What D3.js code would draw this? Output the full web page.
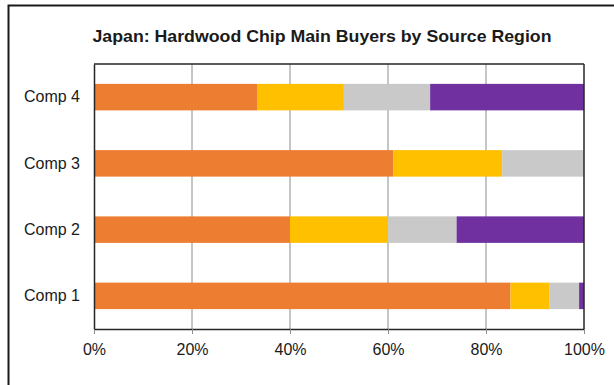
<!DOCTYPE html>
<html>
<head>
<meta charset="utf-8">
<script src="https://cdn.jsdelivr.net/npm/d3@7/dist/d3.min.js"></script>
<style>
  html, body { margin: 0; padding: 0; background: #fff; }
  svg { display: block; font-family: Arial, "Liberation Sans", sans-serif; }
</style>
</head>
<body>
<svg id="chart" width="614" height="385"></svg>
<script>
// Share of hardwood chip purchases by source region, per buyer (percent)
const categories = ["Comp 1", "Comp 2", "Comp 3", "Comp 4"];
const seriesNames = ["Region A", "Region B", "Region C", "Region D"];
const regionA = [85.0, 40.0, 61.1, 33.4];
const regionB = [8.0, 20.0, 22.2, 17.6];
const regionC = [6.0, 14.0, 16.7, 17.6];
const regionD = [1.0, 26.0, 0.0, 31.4];
const seriesColors = ["#ED7D31", "#FFC000", "#C9C9C9", "#7030A0"];
const tickValues = [0, 0.2, 0.4, 0.6, 0.8, 1.0];
const titleText = "Japan: Hardwood Chip Main Buyers by Source Region";

const svg = d3.select("#chart");
const W = 614, H = 385;
const margin = { left: 94, right: 30, top: 64, bottom: 56 };
const plotW = W - margin.left - margin.right;
const plotH = H - margin.top - margin.bottom;

// Outer chart frame
svg.append("rect")
  .attr("x", 8.5).attr("y", 5.5)
  .attr("width", 620).attr("height", 400)
  .attr("fill", "#fff")
  .attr("stroke", "#1a1a1a").attr("stroke-width", 2);

const rows = categories.map((c, i) => ({
  cat: c, A: regionA[i], B: regionB[i], C: regionC[i], D: regionD[i]
}));
const keys = ["A", "B", "C", "D"];
const stacked = d3.stack().keys(keys).offset(d3.stackOffsetExpand)(rows);

const x = d3.scaleLinear().domain([0, 1]).range([0, plotW]);
const y = d3.scaleBand()
  .domain(categories.slice().reverse())
  .range([0, plotH])
  .paddingInner(0.6).paddingOuter(0.3);

const g = svg.append("g").attr("transform", `translate(${margin.left},${margin.top})`);

// Vertical gridlines
g.append("g")
  .selectAll("line")
  .data(tickValues.slice(1, -1))
  .join("line")
  .attr("x1", d => x(d)).attr("x2", d => x(d))
  .attr("y1", 0).attr("y2", plotH)
  .attr("stroke", "#8c8c8c").attr("stroke-width", 1);

// Stacked bars
g.append("g")
  .selectAll("g")
  .data(stacked)
  .join("g")
  .attr("fill", (d, i) => seriesColors[i])
  .selectAll("rect")
  .data(d => d)
  .join("rect")
  .attr("x", d => x(d[0]))
  .attr("y", d => y(d.data.cat))
  .attr("width", d => x(d[1]) - x(d[0]))
  .attr("height", y.bandwidth());

// Plot frame: top and right edges
g.append("line").attr("x1", 0).attr("x2", plotW).attr("y1", 0).attr("y2", 0)
  .attr("stroke", "#262626").attr("stroke-width", 1.5);
g.append("line").attr("x1", plotW).attr("x2", plotW).attr("y1", 0).attr("y2", plotH)
  .attr("stroke", "#262626").attr("stroke-width", 1.5);

// Bottom axis
const xAxis = g.append("g")
  .attr("transform", `translate(0,${plotH})`)
  .call(d3.axisBottom(x).tickValues(tickValues).tickFormat(d3.format(".0%")).tickSize(5).tickSizeOuter(0));
xAxis.select(".domain").attr("stroke", "#262626").attr("stroke-width", 1.5);
xAxis.selectAll(".tick line").attr("stroke", "#8c8c8c");
xAxis.selectAll(".tick text")
  .attr("font-size", 16).attr("fill", "#1a1a1a")
  .attr("font-family", "Arial, 'Liberation Sans', sans-serif")
  .attr("dy", "0.75em").attr("y", 14);

// Left axis
const yAxis = g.append("g")
  .call(d3.axisLeft(y).tickSize(0).tickPadding(14));
yAxis.select(".domain").attr("stroke", "#262626").attr("stroke-width", 1.5);
yAxis.selectAll(".tick text")
  .attr("font-size", 16).attr("fill", "#1a1a1a")
  .attr("font-family", "Arial, 'Liberation Sans', sans-serif");

// Title
const title = svg.append("text")
  .attr("x", 322).attr("y", 42)
  .attr("text-anchor", "middle")
  .attr("font-size", 17).attr("font-weight", "bold")
  .attr("fill", "#1a1a1a")
  .text(titleText);
const tw = title.node().getComputedTextLength();
if (Math.abs(tw - 459) > 4) title.attr("textLength", 459).attr("lengthAdjust", "spacingAndGlyphs");
</script>
</body>
</html>
